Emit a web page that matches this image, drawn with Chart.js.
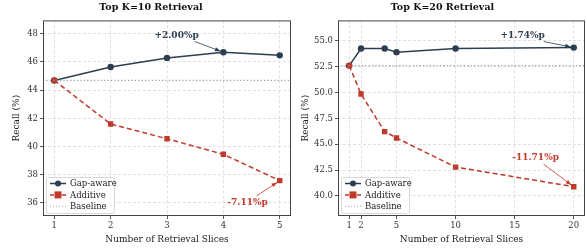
<!DOCTYPE html>
<html lang="en">
<head>
    <meta charset="UTF-8">
    <title>Top K Retrieval</title>
    <script src="https://cdn.jsdelivr.net/npm/chart.js"></script>
    <style>
        body { margin: 0; background: #fff; }
        #wrap { position: relative; width: 587px; height: 248px; }
        .panel { position: absolute; top: 0; height: 248px; }
        #p1 { left: 0; width: 293px; }
        #p2 { left: 293px; width: 294px; }
    </style>
</head>
<body>
<div id="wrap">
    <div class="panel" id="p1"><canvas id="c1"></canvas></div>
    <div class="panel" id="p2"><canvas id="c2"></canvas></div>
</div>
<script>
    // K=10 panel
    const slices10 = [1, 2, 3, 4, 5];
    const gapAware10 = [44.69, 45.64, 46.29, 46.69, 46.47];
    const additive10 = [44.69, 41.6, 40.55, 39.45, 37.58];
    const baseline10 = 44.69;
    const yTicks10 = [36, 38, 40, 42, 44, 46, 48];

    // K=20 panel
    const slices20 = [1, 2, 4, 5, 10, 20];
    const gapAware20 = [52.6, 54.25, 54.25, 53.9, 54.25, 54.34];
    const additive20 = [52.6, 49.85, 46.22, 45.6, 42.79, 40.89];
    const baseline20 = 52.6;
    const yTicks20 = [40.0, 42.5, 45.0, 47.5, 50.0, 52.5, 55.0];
    const xTicks20 = [1, 2, 5, 10, 15, 20];

    const NAVY = '#2c3e50';
    const RED = '#c0392b';
    const GREY = '#999999';
    const SERIF = "'DejaVu Serif', serif";

    // drawn after the datasets: plot frame, arrows with labels, legend
    const decorations = {
        id: 'decorations',
        afterDatasetsDraw(chart, args, opts) {
            const { ctx, chartArea: a, scales } = chart;
            ctx.save();
            ctx.strokeStyle = '#444';
            ctx.lineWidth = 1;
            ctx.strokeRect(a.left + 0.5, a.top + 0.5, a.right - a.left - 1, a.bottom - a.top - 1);

            opts.notes.forEach(n => {
                const tx = scales.x.getPixelForValue(n.at[0]);
                const ty = scales.y.getPixelForValue(n.at[1]);
                const px = scales.x.getPixelForValue(n.to[0]);
                const py = scales.y.getPixelForValue(n.to[1]);
                const sx = tx + n.tail[0], sy = ty + n.tail[1];
                const ang = Math.atan2(py - sy, px - sx);
                const ex = px - Math.cos(ang) * 3, ey = py - Math.sin(ang) * 3;
                ctx.strokeStyle = n.color;
                ctx.fillStyle = n.color;
                ctx.lineWidth = 0.8;
                ctx.beginPath();
                ctx.moveTo(sx, sy);
                ctx.lineTo(ex, ey);
                ctx.stroke();
                ctx.beginPath();
                ctx.moveTo(ex, ey);
                ctx.lineTo(ex - 6 * Math.cos(ang - 0.35), ey - 6 * Math.sin(ang - 0.35));
                ctx.lineTo(ex - 6 * Math.cos(ang + 0.35), ey - 6 * Math.sin(ang + 0.35));
                ctx.closePath();
                ctx.fill();
                ctx.font = 'bold 9px ' + SERIF;
                ctx.textAlign = 'center';
                ctx.textBaseline = 'middle';
                ctx.fillText(n.text, tx, ty);
            });

            // legend box in the lower left corner
            const lx = a.left + 3, ly = a.bottom - 39, lw = 68, lh = 36;
            ctx.fillStyle = 'rgba(255,255,255,0.85)';
            ctx.strokeStyle = '#d8d8d8';
            ctx.lineWidth = 1;
            ctx.beginPath();
            ctx.roundRect(lx + 0.5, ly + 0.5, lw, lh, 2);
            ctx.fill();
            ctx.stroke();
            const items = [
                { label: 'Gap-aware', color: NAVY, dash: [], mark: 'circle', width: 1.5 },
                { label: 'Additive', color: RED, dash: [4, 2], mark: 'square', width: 1.5 },
                { label: 'Baseline', color: '#bbbbbb', dash: [1, 2], mark: null, width: 1.2 }
            ];
            items.forEach((it, i) => {
                const y = ly + 6.5 + i * 11.4;
                ctx.strokeStyle = it.color;
                ctx.lineWidth = it.width;
                ctx.setLineDash(it.dash);
                ctx.beginPath();
                ctx.moveTo(lx + 4, y);
                ctx.lineTo(lx + 20, y);
                ctx.stroke();
                ctx.setLineDash([]);
                ctx.fillStyle = it.color;
                if (it.mark === 'circle') {
                    ctx.beginPath();
                    ctx.arc(lx + 12, y, 3, 0, 2 * Math.PI);
                    ctx.fill();
                } else if (it.mark === 'square') {
                    ctx.fillRect(lx + 8.5, y - 3.5, 7, 7);
                }
                ctx.fillStyle = '#222';
                ctx.font = '8.5px ' + SERIF;
                ctx.textAlign = 'left';
                ctx.textBaseline = 'middle';
                ctx.fillText(it.label, lx + 24, y + 0.5);
            });
            ctx.restore();
        }
    };

    function makeChart(id, o) {
        const ctx = document.getElementById(id).getContext('2d');
        const gridOpts = { color: '#e0e0e0', tickColor: '#555', tickLength: 3, tickBorderDash: [] };
        return new Chart(ctx, {
            type: 'line',
            data: {
                datasets: [{
                    label: 'Baseline',
                    data: [{ x: o.xMin, y: o.baseline }, { x: o.xMax, y: o.baseline }],
                    borderColor: GREY,
                    borderWidth: 1.2,
                    borderDash: [1.2, 2.2],
                    pointRadius: 0
                }, {
                    label: 'Additive',
                    data: o.xs.map((x, i) => ({ x: x, y: o.additive[i] })),
                    borderColor: RED,
                    backgroundColor: RED,
                    borderWidth: 1.5,
                    borderDash: [5, 3],
                    pointStyle: 'rect',
                    pointRadius: 3.8,
                    pointBorderWidth: 0
                }, {
                    label: 'Gap-aware',
                    data: o.xs.map((x, i) => ({ x: x, y: o.gapAware[i] })),
                    borderColor: NAVY,
                    backgroundColor: NAVY,
                    borderWidth: 1.5,
                    pointStyle: 'circle',
                    pointRadius: 3.2,
                    pointBorderWidth: 0
                }]
            },
            options: {
                responsive: true,
                maintainAspectRatio: false,
                animation: false,
                layout: { autoPadding: false, padding: { left: o.padLeft, right: o.padRight, top: 0, bottom: 3 } },
                plugins: {
                    legend: { display: false },
                    tooltip: { enabled: false },
                    title: {
                        display: true,
                        text: o.title,
                        color: '#111',
                        font: { family: SERIF, size: 9.5, weight: 'bold' },
                        padding: { top: 2, bottom: 7 }
                    },
                    decorations: { notes: o.notes }
                },
                scales: {
                    x: {
                        type: 'linear',
                        min: o.xMin,
                        max: o.xMax,
                        afterBuildTicks: s => { s.ticks = o.xTicks.map(v => ({ value: v })); },
                        afterFit: s => { s.height = 29; s.paddingLeft = 0; s.paddingRight = 0; },
                        ticks: { color: '#333', font: { family: SERIF, size: 8.5 }, padding: 2 },
                        grid: gridOpts,
                        border: { display: false, dash: [3, 2] },
                        title: { display: true, text: 'Number of Retrieval Slices', color: '#222', font: { family: SERIF, size: 9 }, padding: { top: 2, bottom: 0 } }
                    },
                    y: {
                        min: o.yMin,
                        max: o.yMax,
                        afterBuildTicks: s => { s.ticks = o.yTicks.map(v => ({ value: v })); },
                        afterFit: s => { s.width = o.yWidth; s.paddingTop = 0; s.paddingBottom = 0; },
                        ticks: { color: '#333', font: { family: SERIF, size: 8.5 }, padding: 2, callback: o.yFmt },
                        grid: gridOpts,
                        border: { display: false, dash: [3, 2] },
                        title: { display: true, text: 'Recall (%)', color: '#222', font: { family: SERIF, size: 9 }, padding: 0 }
                    }
                }
            },
            plugins: [decorations]
        });
    }

    makeChart('c1', {
        title: 'Top K=10 Retrieval',
        xs: slices10, gapAware: gapAware10, additive: additive10, baseline: baseline10,
        xMin: 0.8, xMax: 5.2, xTicks: slices10,
        yMin: 35.07, yMax: 48.95, yTicks: yTicks10, yFmt: v => v,
        padLeft: 11, padRight: 2, yWidth: 32,
        notes: [
            { text: '+2.00%p', at: [3.17, 47.88], to: [4, 46.69], tail: [18, 6], color: NAVY },
            { text: '-7.11%p', at: [4.43, 36.0], to: [5, 37.58], tail: [9, -7], color: RED }
        ]
    });

    makeChart('c2', {
        title: 'Top K=20 Retrieval',
        xs: slices20, gapAware: gapAware20, additive: additive20, baseline: baseline20,
        xMin: 0.05, xMax: 20.95, xTicks: xTicks20,
        yMin: 38.06, yMax: 56.97, yTicks: yTicks20, yFmt: v => v.toFixed(1),
        padLeft: 7, padRight: 2, yWidth: 38,
        notes: [
            { text: '+1.74%p', at: [15.68, 55.51], to: [20, 54.34], tail: [21, 6], color: NAVY },
            { text: '-11.71%p', at: [16.77, 43.74], to: [20, 40.89], tail: [8, 7], color: RED }
        ]
    });
</script>
</body>
</html>
